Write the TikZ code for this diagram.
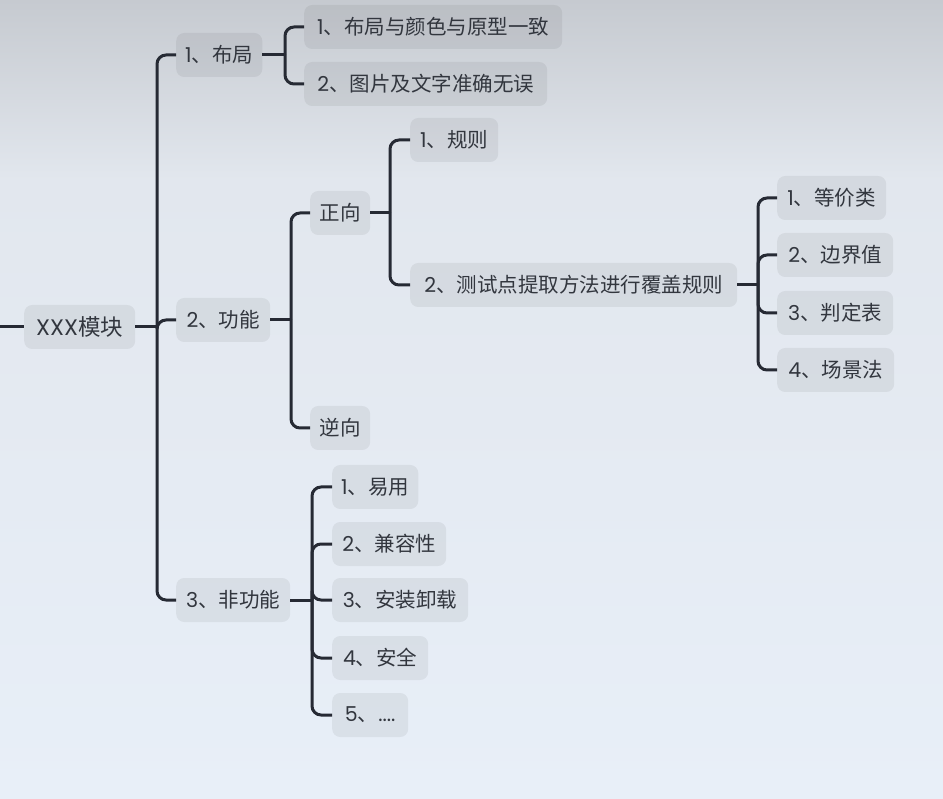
\documentclass[tikz,border=0pt]{standalone}
\usepackage{fontspec}
\setmainfont{Noto Sans CJK SC}
\newfontfamily\lat{Poppins}
\definecolor{bgtop}{RGB}{198,202,208}
\definecolor{bgmid}{RGB}{226,231,238}
\definecolor{bgbot}{RGB}{232,239,248}
\definecolor{txt}{RGB}{50,54,62}
\definecolor{ln}{RGB}{38,42,52}
\tikzset{
  box/.style={draw=none, fill=black, fill opacity=0.06, text opacity=1,
    rounded corners=8pt, minimum height=44pt, inner xsep=9pt, inner ysep=0pt,
    anchor=west, font=\fontsize{20.5}{24}\selectfont, text=txt},
  rootbox/.style={box, font=\fontsize{22.5}{26}\selectfont},
  conn/.style={line width=3pt, draw=ln, rounded corners=9pt},
  stem/.style={line width=3pt, draw=ln}
}
\begin{document}
\begin{tikzpicture}[x=1pt,y=-1pt]
\useasboundingbox (0,0) rectangle (943,799);
\shade[top color=bgtop, bottom color=bgmid] (0,0) rectangle (943,180);
\shade[top color=bgmid, bottom color=bgbot] (0,180) rectangle (943,799);

\node[rootbox, minimum width=111pt] (root) at (24,327) {{\lat XXX}模块};
\node[box, minimum width=86pt] (a1) at (176,55) {{\lat 1}、布局};
\node[box, minimum width=94pt] (a2) at (176,320) {{\lat 2}、功能};
\node[box, minimum width=114pt] (a3) at (176,600) {{\lat 3}、非功能};
\node[box, minimum width=258pt] (b1) at (304,27) {{\lat 1}、布局与颜色与原型一致};
\node[box, minimum width=243pt] (b2) at (304,84) {{\lat 2}、图片及文字准确无误};
\node[box, minimum width=60pt] (c1) at (310,213) {正向};
\node[box, minimum width=60pt] (c2) at (310,428) {逆向};
\node[box, minimum width=88pt] (d1) at (410,140) {{\lat 1}、规则};
\node[box, minimum width=327pt] (d2) at (410,285) {{\lat 2}、测试点提取方法进行覆盖规则};
\node[box, minimum width=109pt] (e1) at (777,198) {{\lat 1}、等价类};
\node[box, minimum width=116pt] (e2) at (777,255) {{\lat 2}、边界值};
\node[box, minimum width=116pt] (e3) at (777,313) {{\lat 3}、判定表};
\node[box, minimum width=117pt] (e4) at (777,370) {{\lat 4}、场景法};
\node[box, minimum width=86pt] (f1) at (332,487) {{\lat 1}、易用};
\node[box, minimum width=114pt] (f2) at (332,544) {{\lat 2}、兼容性};
\node[box, minimum width=136pt] (f3) at (332,600) {{\lat 3}、安装卸载};
\node[box, minimum width=96pt] (f4) at (332,658) {{\lat 4}、安全};
\node[box, minimum width=76pt] (f5) at (332,715) {{\lat 5}、{\lat ....}};

\coordinate (start) at (0,327);
\draw[stem] (start) -- (root.west);

% root trunk
\coordinate (tr) at (157,327);
\draw[stem] (root.east) -- (tr);
\foreach \c in {a1,a2,a3} \draw[conn] (tr) |- (\c.west);

% layout
\coordinate (ta1) at (285,55);
\draw[stem] (a1.east) -- (ta1);
\foreach \c in {b1,b2} \draw[conn] (ta1) |- (\c.west);

% function
\coordinate (ta2) at (291,320);
\draw[stem] (a2.east) -- (ta2);
\foreach \c in {c1,c2} \draw[conn] (ta2) |- (\c.west);

% forward
\coordinate (tc1) at (390,213);
\draw[stem] (c1.east) -- (tc1);
\foreach \c in {d1,d2} \draw[conn] (tc1) |- (\c.west);

% methods
\coordinate (td2) at (758,285);
\draw[stem] (d2.east) -- (td2);
\foreach \c in {e1,e2,e3,e4} \draw[conn] (td2) |- (\c.west);

% non-function
\coordinate (ta3) at (312,600);
\draw[stem] (a3.east) -- (ta3);
\foreach \c in {f1,f2,f3,f4,f5} \draw[conn] (ta3) |- (\c.west);
\end{tikzpicture}
\end{document}
